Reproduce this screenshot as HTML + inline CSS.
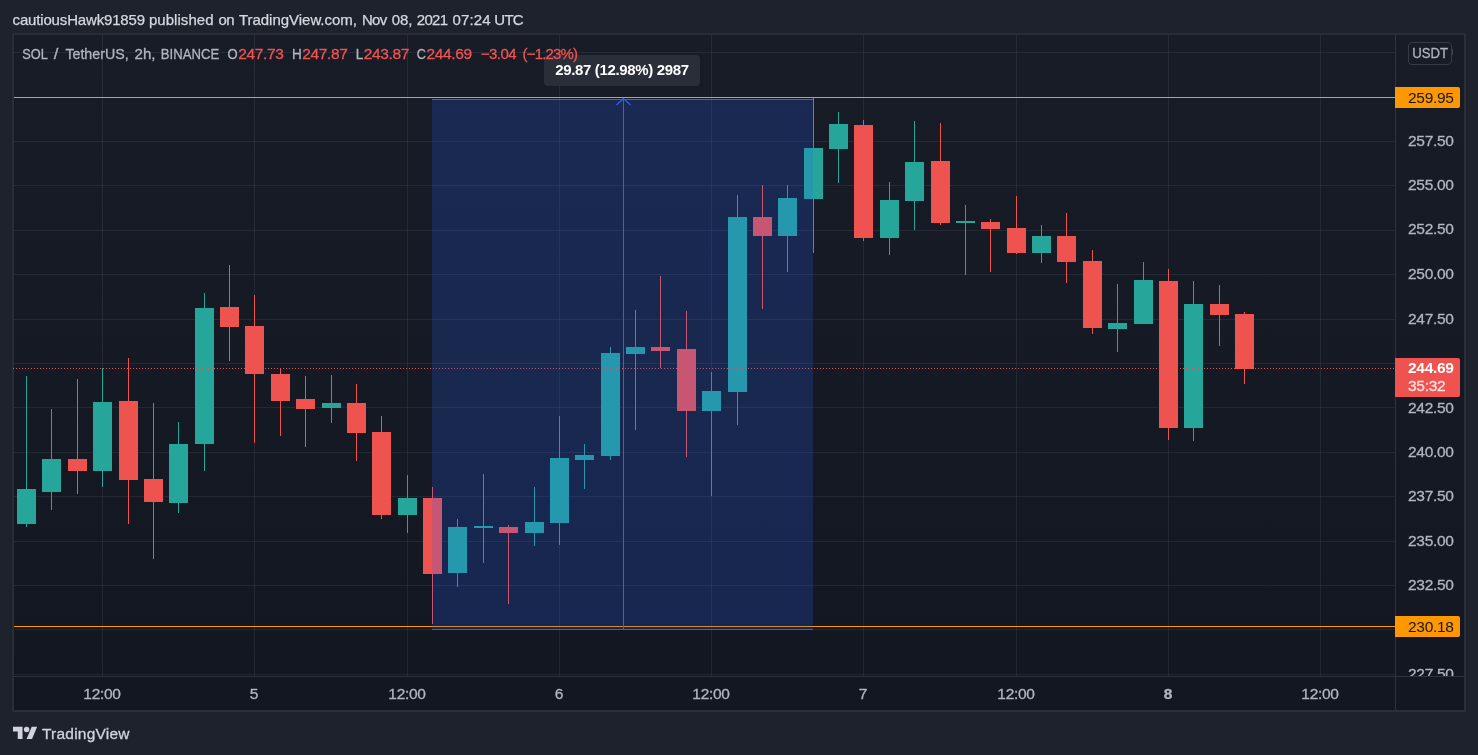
<!DOCTYPE html>
<html lang="en"><head><meta charset="utf-8"><title>SOL / TetherUS chart</title>
<style>
html,body{margin:0;padding:0}
body{width:1478px;height:755px;overflow:hidden;background:#1e222d;position:relative;font-family:"Liberation Sans",Arial,sans-serif;color:#b2b5be}
div{position:absolute;white-space:nowrap;box-sizing:border-box}
#frame{left:12px;top:33px;width:1454px;height:679px;background:#2a2e39;border-left:1px solid #272b36;border-top:1px solid #272b36}
#inner{left:14px;top:35px;width:1450px;height:675px;background:#131722}
#pane{left:14px;top:35px;width:1450px;height:641px;background:linear-gradient(#181c27,#131722)}
#axv{left:1395px;top:35px;width:1px;height:675px;background:#2f333e}
#axh{left:14px;top:676px;width:1450px;height:1px;background:#2f333e}
svg{position:absolute;left:0;top:0}
#title{left:0;top:10px;width:600px;height:20px;font-size:15px;line-height:20px;color:#d6d8e0;-webkit-text-stroke:0.25px #d6d8e0}
#title span{position:absolute;top:0;width:200px;text-align:center;white-space:nowrap}
.lg{top:44px;font-size:15px;line-height:20px;color:#b2b5be;-webkit-text-stroke:0.3px #b2b5be}
.lg.w{width:100px;text-align:center;transform-origin:50% 50%}
.lg.v{color:#ef5350;font-size:15.5px;letter-spacing:-0.35px;-webkit-text-stroke:0.3px #ef5350}
.pl{left:1396px;width:68px;text-align:left;padding-left:12px;font-size:15.5px;letter-spacing:-0.3px;line-height:20px;color:#b2b5be;-webkit-text-stroke:0.3px #b2b5be}
#axclip{left:1396px;top:35px;width:68px;height:641px;overflow:hidden}
#axclip .pl{left:0}
.tl{top:684px;width:60px;text-align:center;font-size:15.5px;letter-spacing:-0.3px;line-height:20px;color:#b2b5be;-webkit-text-stroke:0.3px #b2b5be}
.tl.b{font-weight:bold}
.tag{left:1395px;width:65px;height:21px;border-radius:0 2px 2px 0;font-size:15.5px;letter-spacing:-0.3px;line-height:21px;padding-left:13px;color:#131722;background:#ff9800}
#last{left:1395px;top:358px;width:65px;height:39px;border-radius:0 2px 2px 0;background:#ef5350;color:#fff;font-size:15.5px;letter-spacing:-0.3px;padding-left:13px}
#last b{display:block;line-height:20px;margin-top:0}
#last em{display:block;font-style:normal;line-height:17px;margin-top:-1px;color:rgba(255,255,255,0.78);-webkit-text-stroke:0.3px rgba(255,255,255,0.78)}
#usdt{left:1408px;top:42px;width:44px;height:23px;border:1px solid #363a45;border-radius:4px;font-size:15.5px;line-height:19px;text-align:center;color:#b2b5be;-webkit-text-stroke:0.3px #b2b5be}
#usdt span{display:inline-block;transform:scaleX(0.85);transform-origin:50% 50%;margin:0 -5px}
#nub{left:1452px;top:49px;width:1px;height:6px;background:#3c404b}
#tip{left:544px;top:55px;width:156px;height:31px;line-height:30px;text-align:center;font-weight:bold;font-size:15px;letter-spacing:-0.348px;color:#fff}
#brand{left:42px;top:723px;font-size:15.5px;letter-spacing:0.218px;line-height:22px;color:#d1d4dc;-webkit-text-stroke:0.3px #d1d4dc}
</style></head><body>
<div id="frame"></div><div id="inner"></div><div id="pane"></div>
<svg width="1478" height="755" viewBox="0 0 1478 755" shape-rendering="crispEdges">
<rect x="14" y="52" width="1381" height="1" fill="rgba(240,243,250,0.07)"/>
<rect x="14" y="141" width="1381" height="1" fill="rgba(240,243,250,0.07)"/>
<rect x="14" y="185" width="1381" height="1" fill="rgba(240,243,250,0.07)"/>
<rect x="14" y="230" width="1381" height="1" fill="rgba(240,243,250,0.07)"/>
<rect x="14" y="274" width="1381" height="1" fill="rgba(240,243,250,0.07)"/>
<rect x="14" y="319" width="1381" height="1" fill="rgba(240,243,250,0.07)"/>
<rect x="14" y="363" width="1381" height="1" fill="rgba(240,243,250,0.07)"/>
<rect x="14" y="407" width="1381" height="1" fill="rgba(240,243,250,0.07)"/>
<rect x="14" y="452" width="1381" height="1" fill="rgba(240,243,250,0.07)"/>
<rect x="14" y="496" width="1381" height="1" fill="rgba(240,243,250,0.07)"/>
<rect x="14" y="541" width="1381" height="1" fill="rgba(240,243,250,0.07)"/>
<rect x="14" y="585" width="1381" height="1" fill="rgba(240,243,250,0.07)"/>
<rect x="14" y="629" width="1381" height="1" fill="rgba(240,243,250,0.07)"/>
<rect x="14" y="674" width="1381" height="1" fill="rgba(240,243,250,0.07)"/>
<rect x="102" y="35" width="1" height="641" fill="rgba(240,243,250,0.07)"/>
<rect x="254" y="35" width="1" height="641" fill="rgba(240,243,250,0.07)"/>
<rect x="407" y="35" width="1" height="641" fill="rgba(240,243,250,0.07)"/>
<rect x="559" y="35" width="1" height="641" fill="rgba(240,243,250,0.07)"/>
<rect x="711" y="35" width="1" height="641" fill="rgba(240,243,250,0.07)"/>
<rect x="863" y="35" width="1" height="641" fill="rgba(240,243,250,0.07)"/>
<rect x="1016" y="35" width="1" height="641" fill="rgba(240,243,250,0.07)"/>
<rect x="1168" y="35" width="1" height="641" fill="rgba(240,243,250,0.07)"/>
<rect x="1320" y="35" width="1" height="641" fill="rgba(240,243,250,0.07)"/>
<rect x="26" y="376" width="1" height="151" fill="#26a69a"/><rect x="17" y="489" width="19" height="35" fill="#26a69a"/>
<rect x="51" y="409" width="1" height="101" fill="#26a69a"/><rect x="42" y="459" width="19" height="33" fill="#26a69a"/>
<rect x="77" y="379" width="1" height="115" fill="#ef5350"/><rect x="68" y="459" width="19" height="12" fill="#ef5350"/>
<rect x="102" y="368" width="1" height="119" fill="#26a69a"/><rect x="93" y="402" width="19" height="69" fill="#26a69a"/>
<rect x="128" y="358" width="1" height="166" fill="#ef5350"/><rect x="119" y="401" width="19" height="79" fill="#ef5350"/>
<rect x="153" y="403" width="1" height="156" fill="#ef5350"/><rect x="144" y="479" width="19" height="23" fill="#ef5350"/>
<rect x="178" y="422" width="1" height="91" fill="#26a69a"/><rect x="169" y="444" width="19" height="59" fill="#26a69a"/>
<rect x="204" y="293" width="1" height="178" fill="#26a69a"/><rect x="195" y="308" width="19" height="136" fill="#26a69a"/>
<rect x="229" y="265" width="1" height="96" fill="#ef5350"/><rect x="220" y="307" width="19" height="20" fill="#ef5350"/>
<rect x="254" y="295" width="1" height="148" fill="#ef5350"/><rect x="245" y="326" width="19" height="48" fill="#ef5350"/>
<rect x="280" y="368" width="1" height="68" fill="#ef5350"/><rect x="271" y="374" width="19" height="27" fill="#ef5350"/>
<rect x="305" y="376" width="1" height="71" fill="#ef5350"/><rect x="296" y="399" width="19" height="10" fill="#ef5350"/>
<rect x="331" y="375" width="1" height="48" fill="#26a69a"/><rect x="322" y="403" width="19" height="5" fill="#26a69a"/>
<rect x="356" y="384" width="1" height="77" fill="#ef5350"/><rect x="347" y="403" width="19" height="30" fill="#ef5350"/>
<rect x="381" y="416" width="1" height="103" fill="#ef5350"/><rect x="372" y="432" width="19" height="83" fill="#ef5350"/>
<rect x="407" y="475" width="1" height="58" fill="#26a69a"/><rect x="398" y="498" width="19" height="17" fill="#26a69a"/>
<rect x="432" y="487" width="1" height="137" fill="#ef5350"/><rect x="423" y="498" width="19" height="76" fill="#ef5350"/>
<rect x="457" y="519" width="1" height="68" fill="#26a69a"/><rect x="448" y="527" width="19" height="46" fill="#26a69a"/>
<rect x="483" y="474" width="1" height="89" fill="#26a69a"/><rect x="474" y="526" width="19" height="2" fill="#26a69a"/>
<rect x="508" y="525" width="1" height="79" fill="#ef5350"/><rect x="499" y="527" width="19" height="6" fill="#ef5350"/>
<rect x="534" y="487" width="1" height="59" fill="#26a69a"/><rect x="525" y="522" width="19" height="11" fill="#26a69a"/>
<rect x="559" y="416" width="1" height="129" fill="#26a69a"/><rect x="550" y="458" width="19" height="65" fill="#26a69a"/>
<rect x="584" y="444" width="1" height="45" fill="#26a69a"/><rect x="575" y="455" width="19" height="5" fill="#26a69a"/>
<rect x="610" y="347" width="1" height="113" fill="#26a69a"/><rect x="601" y="353" width="19" height="103" fill="#26a69a"/>
<rect x="635" y="310" width="1" height="120" fill="#26a69a"/><rect x="626" y="347" width="19" height="7" fill="#26a69a"/>
<rect x="660" y="276" width="1" height="92" fill="#ef5350"/><rect x="651" y="347" width="19" height="4" fill="#ef5350"/>
<rect x="686" y="311" width="1" height="146" fill="#ef5350"/><rect x="677" y="349" width="19" height="62" fill="#ef5350"/>
<rect x="711" y="372" width="1" height="124" fill="#26a69a"/><rect x="702" y="391" width="19" height="20" fill="#26a69a"/>
<rect x="737" y="195" width="1" height="230" fill="#26a69a"/><rect x="728" y="217" width="19" height="175" fill="#26a69a"/>
<rect x="762" y="185" width="1" height="124" fill="#ef5350"/><rect x="753" y="217" width="19" height="19" fill="#ef5350"/>
<rect x="787" y="185" width="1" height="87" fill="#26a69a"/><rect x="778" y="198" width="19" height="38" fill="#26a69a"/>
<rect x="813" y="98" width="1" height="155" fill="#26a69a"/><rect x="804" y="148" width="19" height="51" fill="#26a69a"/>
<rect x="838" y="112" width="1" height="71" fill="#26a69a"/><rect x="829" y="124" width="19" height="25" fill="#26a69a"/>
<rect x="863" y="120" width="1" height="121" fill="#ef5350"/><rect x="854" y="125" width="19" height="113" fill="#ef5350"/>
<rect x="889" y="182" width="1" height="73" fill="#26a69a"/><rect x="880" y="200" width="19" height="38" fill="#26a69a"/>
<rect x="914" y="121" width="1" height="109" fill="#26a69a"/><rect x="905" y="162" width="19" height="39" fill="#26a69a"/>
<rect x="940" y="123" width="1" height="102" fill="#ef5350"/><rect x="931" y="161" width="19" height="62" fill="#ef5350"/>
<rect x="965" y="205" width="1" height="70" fill="#26a69a"/><rect x="956" y="221" width="19" height="2" fill="#26a69a"/>
<rect x="990" y="219" width="1" height="53" fill="#ef5350"/><rect x="981" y="222" width="19" height="7" fill="#ef5350"/>
<rect x="1016" y="196" width="1" height="58" fill="#ef5350"/><rect x="1007" y="228" width="19" height="25" fill="#ef5350"/>
<rect x="1041" y="225" width="1" height="38" fill="#26a69a"/><rect x="1032" y="236" width="19" height="17" fill="#26a69a"/>
<rect x="1066" y="213" width="1" height="70" fill="#ef5350"/><rect x="1057" y="236" width="19" height="26" fill="#ef5350"/>
<rect x="1092" y="250" width="1" height="84" fill="#ef5350"/><rect x="1083" y="261" width="19" height="67" fill="#ef5350"/>
<rect x="1117" y="284" width="1" height="68" fill="#26a69a"/><rect x="1108" y="323" width="19" height="6" fill="#26a69a"/>
<rect x="1143" y="262" width="1" height="62" fill="#26a69a"/><rect x="1134" y="280" width="19" height="44" fill="#26a69a"/>
<rect x="1168" y="269" width="1" height="171" fill="#ef5350"/><rect x="1159" y="281" width="19" height="147" fill="#ef5350"/>
<rect x="1193" y="281" width="1" height="160" fill="#26a69a"/><rect x="1184" y="304" width="19" height="124" fill="#26a69a"/>
<rect x="1219" y="285" width="1" height="61" fill="#ef5350"/><rect x="1210" y="304" width="19" height="11" fill="#ef5350"/>
<rect x="1244" y="312" width="1" height="72" fill="#ef5350"/><rect x="1235" y="314" width="19" height="55" fill="#ef5350"/>
<line x1="13" y1="368.5" x2="1395" y2="368.5" stroke="#ef5350" stroke-width="1" stroke-dasharray="1 2"/>
<rect x="14" y="97" width="1381" height="1" fill="#ff9800"/>
<rect x="14" y="626" width="1381" height="1" fill="#ff9800"/>
<rect x="432" y="99" width="381" height="531" fill="rgba(41,98,255,0.2)"/>
<rect x="432" y="99" width="381" height="1" fill="#2962ff"/>
<rect x="432" y="629" width="381" height="1" fill="#2962ff"/>
<rect x="623" y="99" width="1" height="530" fill="#2962ff"/>
<path d="M616.5 105 L623.5 98.5 L630.5 105" fill="none" stroke="#2962ff" stroke-width="1.2" shape-rendering="geometricPrecision"/>
<rect x="544" y="55" width="156" height="31" rx="4" fill="#2a2e39" shape-rendering="geometricPrecision"/>
<g transform="translate(13,724) scale(0.68)" fill="#d1d4dc" shape-rendering="geometricPrecision"><path d="M14 22H7V11H0V4h14v18zM28 22h-8l7.5-18h8L28 22z"/><circle cx="20" cy="8" r="4"/></g>
</svg>
<div id="axv"></div><div id="axh"></div>
<div id="title"><span style="left:-21.28px;letter-spacing:-0.162px">cautiousHawk91859</span> <span style="left:81.27px;letter-spacing:0.048px">published</span> <span style="left:126.21px;letter-spacing:-0.590px">on</span> <span style="left:197.94px;letter-spacing:-0.026px">TradingView.com,</span> <span style="left:274.25px;letter-spacing:-0.700px">Nov</span> <span style="left:301.96px;letter-spacing:-0.080px">08,</span> <span style="left:332.10px;letter-spacing:-0.700px">2021</span> <span style="left:371.61px;letter-spacing:0.113px">07:24</span> <span style="left:408.65px;letter-spacing:-0.700px">UTC</span></div>
<div class="lg w" style="left:-14.65px;transform:scaleX(0.853)">SOL</div><div class="lg w" style="left:5.95px;transform:scaleX(1.100)">/</div><div class="lg w" style="left:46.75px;transform:scaleX(0.948)">TetherUS,</div><div class="lg w" style="left:95.25px;transform:scaleX(1.007)">2h,</div><div class="lg w" style="left:139.80px;transform:scaleX(0.877)">BINANCE</div><div class="lg r" style="right:1240.0px;transform:scaleX(0.87);transform-origin:100% 50%">O</div><div class="lg v" style="left:238.3px">247.73</div><div class="lg r" style="right:1176.0px;transform:scaleX(0.9);transform-origin:100% 50%">H</div><div class="lg v" style="left:302.3px">247.87</div><div class="lg r" style="right:1114.5px;transform:scaleX(0.9);transform-origin:100% 50%">L</div><div class="lg v" style="left:363.8px">243.87</div><div class="lg r" style="right:1051.8px;transform:scaleX(0.84);transform-origin:100% 50%">C</div><div class="lg v" style="left:426.5px">244.69</div><div class="lg v" style="left:480.9px;font-size:15px;letter-spacing:-0.574px">−3.04</div><div class="lg v" style="left:522.5px;font-size:15px;letter-spacing:-0.812px">(−1.23%)</div>
<div id="axclip"><div class="pl" style="top:96px">257.50</div><div class="pl" style="top:140px">255.00</div><div class="pl" style="top:184px">252.50</div><div class="pl" style="top:229px">250.00</div><div class="pl" style="top:274px">247.50</div><div class="pl" style="top:363px">242.50</div><div class="pl" style="top:407px">240.00</div><div class="pl" style="top:451px">237.50</div><div class="pl" style="top:496px">235.00</div><div class="pl" style="top:540px">232.50</div><div class="pl" style="top:629px">227.50</div></div>
<div class="tl" style="left:72px">12:00</div><div class="tl" style="left:224px">5</div><div class="tl" style="left:377px">12:00</div><div class="tl" style="left:529px">6</div><div class="tl" style="left:681px">12:00</div><div class="tl" style="left:833px">7</div><div class="tl" style="left:986px">12:00</div><div class="tl b" style="left:1138px">8</div><div class="tl" style="left:1290px">12:00</div>
<div id="usdt"><span>USDT</span></div><div id="nub"></div>
<div class="tag" style="top:87px">259.95</div>
<div class="tag" style="top:616px">230.18</div>
<div id="last"><b>244.69</b><em>35:32</em></div>
<div id="tip">29.87 (12.98%) 2987</div>
<div id="brand">TradingView</div>
</body></html>
